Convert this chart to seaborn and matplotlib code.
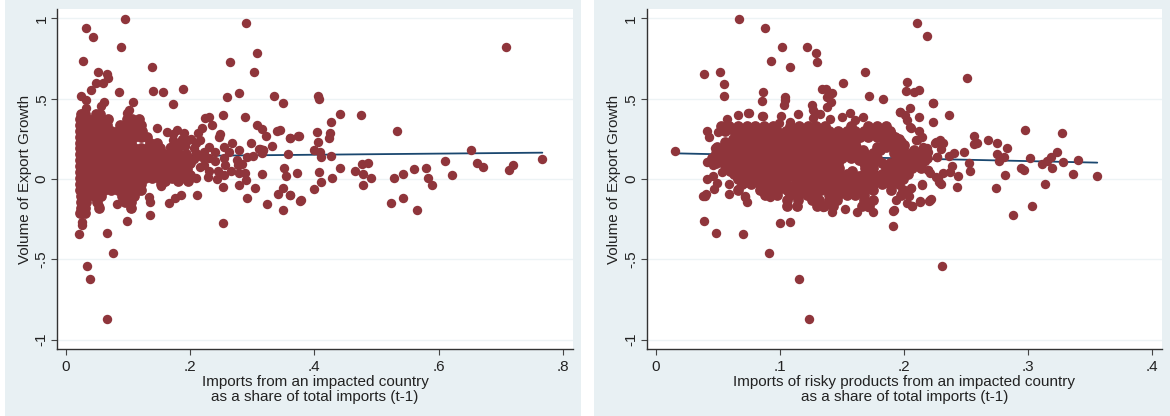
import matplotlib
matplotlib.use("Agg")
import matplotlib.pyplot as plt
from matplotlib.patches import Rectangle
import pandas as pd
import seaborn as sns

MAROON = "#8f353b"
NAVY = "#1a476f"
PANEL = "#e8f0f3"
GRID = "#edf3f5"

x_label_left = "Imports from an impacted country\nas a share of total imports (t-1)"
x_label_right = "Imports of risky products from an impacted country\nas a share of total imports (t-1)"
y_label = "Volume of Export Growth"
y_ticks = [-1, -.5, 0, .5, 1]
y_tick_labels = ["-1", "-.5", "0", ".5", "1"]
x_ticks_left = [0, .2, .4, .6, .8]
x_tick_labels_left = ["0", ".2", ".4", ".6", ".8"]
x_ticks_right = [0, .1, .2, .3, .4]
x_tick_labels_right = ["0", ".1", ".2", ".3", ".4"]

fit_left_x = [.025, .767]
fit_left_y = [.138, .164]
fit_right_x = [.0154, .3557]
fit_right_y = [.16, .102]

left_sparse = [
 (.095,.995),(.033,.939),(.044,.887),(.089,.82),(.028,.737),(.29,.97),(.308,.787),(.264,.729),(.302,.669),
 (.138,.698),(.051,.669),(.066,.654),(.068,.629),(.06,.6),(.049,.6),(.04,.555),(.086,.544),(.14,.548),
 (.156,.544),(.188,.563),(.024,.517),(.033,.492),(.108,.482),(.061,.482),(.056,.455),(.172,.469),(.259,.511),
 (.278,.534),(.335,.519),(.349,.475),(.033,.445),(.027,.41),(.102,.43),(.098,.41),(.253,.399),(.289,.384),
 (.231,.384),(.224,.378),(.235,.335),(.219,.315),(.308,.336),(.315,.311),(.322,.27),(.345,.305),(.34,.3),
 (.36,.255),(.373,.27),(.332,.207),(.298,.226),(.318,.18),(.313,.185),(.357,.158),(.351,.068),(.354,.019),
 (.372,.037),(.316,.031),(.304,-.056),(.292,-.116),(.324,-.156),(.342,-.095),(.349,-.058),(.361,-.098),
 (.349,-.19),(.376,-.14),(.406,.517),(.407,.498),(.442,.403),(.475,.401),(.426,.357),(.404,.291),(.425,.285),
 (.423,.257),(.375,.268),(.361,.254),(.406,.23),(.399,.181),(.409,.166),(.41,.139),(.427,.145),(.407,.044),
 (.411,-.019),(.429,.004),(.442,.069),(.465,.05),(.476,.093),(.487,.1),(.478,.031),(.491,.004),(.479,-.036),
 (.4,-.06),(.36,-.1),(.379,-.133),(.252,-.276),(.211,-.098),(.252,-.052),(.278,-.039),(.29,-.006),(.288,.035),
 (.279,.035),(.283,.093),(.275,.118),(.301,.143),(.291,.139),(.279,.181),(.268,.226),(.254,.201),(.263,.17),
 (.311,.185),(.317,.18),(.315,.165),(.213,.289),(.248,.279),(.246,.26),(.216,.243),(.21,.222),(.231,.197),
 (.201,.25),(.24,.17),(.254,.132),(.23,.132),(.219,.14),(.209,.165),(.206,.125),(.215,.075),(.229,.014),
 (.243,-.002),(.255,.025),(.244,.05),(.23,.05),(.256,.085),(.24,.115),(.265,.05),(.209,.004),(.2,.007),(.277,.087),
 (.708,.822),(.533,.299),(.652,.179),(.611,.114),(.662,.102),(.672,.077),(.719,.089),(.713,.054),(.767,.127),
 (.621,.027),(.58,.07),(.561,.062),(.543,.033),(.528,.006),(.583,.006),(.59,-.036),(.542,-.12),(.523,-.151),(.565,-.193),
 (.146,.316),(.162,.295),(.178,.305),(.172,.28),(.172,.243),(.167,.2),(.18,.19),(.19,.285),(.196,.24),(.151,.18),
 (.135,.225),(.153,-.042),(.166,-.148),(.176,-.12),(.185,-.1),(.025,-.266),(.026,-.287),(.021,-.343),(.066,-.334),
 (.098,-.262),(.135,-.222),(.133,-.114),(.135,-.141),(.104,-.183),(.082,-.158),(.053,-.168),(.031,-.208),
 (.076,-.461),(.034,-.54),(.038,-.625),(.066,-.87),
 (.186,.25),(.178,.22),(.192,.205),(.206,.19),(.222,.17),(.2,.1),(.222,.09),
]

left_rows = [
 (.405,[.024,.030,.048,.055]),
 (.372,[.023,.034,.045,.056,.067,.098,.106,.118]),
 (.337,[.022,.033,.044,.055,.066,.087,.098,.109,.12]),
 (.30,[.022,.028,.039,.05,.061,.072,.083,.094,.105,.116,.123]),
 (.263,[.022,.033,.044,.055,.066,.077,.088,.099,.11,.121,.13]),
 (.226,[.022,.028,.039,.05,.061,.072,.083,.094,.105,.135,.147]),
 (.19,[.022,.033,.044,.055,.066,.077,.088,.099,.11,.121,.132,.143,.152]),
 (.153,[.022,.028,.039,.05,.061,.072,.083,.094,.105,.116,.127,.138,.149,.16,.171,.182,.193]),
 (.135,[.155,.165,.18,.195]),
 (.116,[.022,.033,.044,.055,.066,.077,.088,.099,.11,.121,.132,.143,.154,.165,.176,.187,.198]),
 (.098,[.16,.172,.185,.2]),
 (.079,[.022,.028,.039,.05,.061,.072,.083,.094,.105,.116,.127,.138,.149,.156,.176,.19]),
 (.06,[.16,.17,.183,.195]),
 (.042,[.022,.033,.044,.055,.066,.077,.088,.099,.11,.121,.132,.143,.155,.172,.192]),
 (.024,[.16,.18,.2]),
 (.005,[.022,.028,.039,.05,.061,.072,.083,.094,.105,.116,.127,.138,.15,.17,.192]),
 (-.012,[.16,.18,.196]),
 (-.032,[.022,.033,.044,.055,.066,.077,.088,.099,.11,.121,.153]),
 (-.069,[.022,.028,.039,.05,.061,.072,.083,.094,.105,.116,.12]),
 (-.106,[.024,.034,.045,.056,.09,.1,.11]),
 (-.142,[.024,.032,.05,.095,.105]),
 (-.178,[.024,.03,.053,.104]),
 (-.21,[.022,.031]),
]

right_sparse = [
 (.0672,.995),(.0879,.939),(.102,.82),(.122,.824),(.129,.787),(.13,.729),(.093,.737),(.1085,.698),(.0388,.652),
 (.052,.669),(.0554,.592),(.0554,.515),(.1687,.669),(.151,.6),(.0866,.544),(.0857,.484),(.1045,.513),(.1045,.49),
 (.1037,.459),(.134,.559),(.137,.56),(.142,.534),(.138,.513),(.141,.482),(.1383,.45),(.126,.459),(.1266,.43),
 (.1716,.517),(.1834,.5),(.1324,.405),(.127,.378),(.15,.384),(.157,.413),(.167,.384),(.161,.37),(.1405,.372),
 (.101,.394),(.0868,.39),(.0755,.409),(.0667,.399),(.0573,.372),(.0417,.299),(.0433,.26),(.0505,.295),(.056,.31),
 (.0154,.176),(.0417,.108),(.0465,.087),(.048,.191),(.0412,0),(.046,.019),(.0493,-.023),(.0471,-.064),(.0399,-.104),
 (.0594,-.031),(.0594,-.095),(.0667,-.064),(.0721,-.11),(.0734,-.141),(.0533,.045),(.055,.09),
 (.039,-.26),(.049,-.334),(.0702,-.343),(.1,-.277),(.1083,-.268),(.0385,-.106),(.041,-.094),(.072,-.106),
 (.0842,-.069),(.0922,-.114),(.0976,-.063),(.1056,-.162),(.1137,-.168),(.087,-.09),
 (.0747,.409),(.0855,.393),(.115,.405),(.1284,.41),(.092,.315),(.0997,.347),(.108,.358),
 (.1969,.415),(.2049,.44),(.2022,.368),(.2049,.322),(.2124,.384),(.2237,.471),(.2237,.357),(.2124,.301),(.2142,.264),
 (.2098,.24),(.2184,.191),(.2259,.232),(.2184,.129),(.2197,.056),(.2263,.14),(.2259,.01),(.2286,-.017),(.2144,-.037),
 (.2057,-.058),(.2041,-.105),(.2022,-.15),(.2062,-.166),(.2132,-.146),(.2202,-.135),(.2222,-.127),(.1936,-.13),
 (.1923,-.193),(.1912,-.293),(.1754,-.208),(.1714,-.176),(.1523,-.184),(.162,-.203),(.1419,-.203),(.1351,-.172),(.143,-.13),
 (.2108,.97),(.2188,.889),(.2511,.63),(.2025,.604),(.2017,.548),(.2081,.542),(.2119,.552),(.2237,.472),(.1969,.418),
 (.2009,.4),(.2363,.401),(.2055,.32),(.2975,.304),(.327,.285),(.2564,.27),(.268,.243),(.2752,.224),(.2591,.226),
 (.2564,.216),(.283,.195),(.2103,.243),(.2156,.202),(.225,.227),(.2317,.224),(.2291,.243),(.2299,.185),(.2197,.17),
 (.2269,.139),(.2366,.143),(.2404,.164),(.2484,.168),(.2747,.158),(.2806,.139),(.2766,.114),(.3014,.129),(.3233,.166),
 (.3182,.139),(.315,.114),(.3115,.091),(.3281,.108),(.3404,.118),(.3557,.018),(.3193,.067),(.3361,.032),(.3134,-.03),
 (.2941,.069),(.297,.057),(.2812,.024),(.2742,-.053),(.3029,-.168),(.2524,.097),(.2532,.052),(.2385,.083),(.2433,.021),
 (.2371,.042),(.2317,.036),(.2277,.004),(.2299,-.032),(.2425,-.047),(.2143,-.032),(.221,-.13),(.213,-.14),(.2054,-.058),
 (.2063,-.168),(.2197,.054),(.221,.04),(.217,.115),
 (.2878,-.222),(.2308,-.54),(.0914,-.461),(.1155,-.625),(.1233,-.87),(.1912,-.2),
]

right_rows = [
 (.33,[.0525,.0595,.0665,.0735,.0805,.0875,.0945,.1085,.1155,.1225,.1295,.1365,.1575,.1715,.1785,.1855]),
 (.297,[.056,.063,.07,.077,.084,.091,.098,.105,.112,.119,.126,.133,.14,.147,.154,.161,.168,.175,.182,.189]),
 (.2805,[.068,.082,.096,.11,.124,.138,.152,.166,.18,.19]),
 (.264,[.0665,.0735,.0805,.0875,.0945,.1015,.1085,.1155,.1225,.1295,.1365,.1435,.1505,.1575,.1645,.1715,.1785,.1855,.1925]),
 (.2475,[.062,.076,.09,.104,.118,.132,.146,.16,.186,.196]),
 (.231,[.056,.063,.07,.077,.084,.091,.098,.105,.112,.119,.126,.133,.14,.147,.154,.161,.184,.191,.198]),
 (.2145,[.06,.074,.088,.102,.116,.13,.144,.158,.186,.2]),
 (.198,[.0495,.0565,.0635,.0705,.0775,.0845,.0915,.0985,.1055,.1125,.1195,.1265,.1335,.1405,.1475,.1545,.1615,.1785,.1855,.1925,.1995]),
 (.1815,[.055,.069,.083,.097,.111,.125,.139,.153,.167,.181,.195,.208]),
 (.165,[.049,.056,.063,.07,.077,.084,.091,.098,.105,.112,.119,.126,.133,.14,.147,.154,.161,.168,.175,.192,.199,.206,.213]),
 (.1485,[.053,.067,.081,.095,.109,.123,.137,.151,.165,.176,.198,.212]),
 (.132,[.0455,.0525,.0595,.0665,.0735,.0805,.0875,.0945,.1015,.1085,.1155,.1225,.1295,.1365,.1435,.1505,.1575,.1645,.1715,.1785,.1975,.2045,.2115,.2185]),
 (.1155,[.05,.064,.078,.092,.106,.12,.134,.148,.164,.178,.194,.208]),
 (.099,[.049,.056,.063,.07,.077,.084,.091,.098,.105,.112,.119,.126,.133,.14,.147,.168,.175,.182,.189,.196,.203,.21]),
 (.0825,[.06,.074,.088,.102,.116,.13,.144,.172,.186,.2,.212]),
 (.066,[.0565,.0635,.0705,.0775,.0845,.0915,.0985,.1055,.1125,.1195,.1265,.1335,.1405,.1475,.1685,.1755,.1855,.1925,.1995,.2065,.2135]),
 (.0495,[.06,.074,.088,.102,.116,.13,.144,.158,.172,.186,.2]),
 (.033,[.063,.07,.077,.084,.091,.098,.105,.112,.119,.126,.133,.14,.147,.154,.168,.175,.182,.189,.196,.203]),
 (.0165,[.066,.08,.094,.108,.122,.136,.15,.164,.178,.192]),
 (0,[.0665,.0735,.0805,.0875,.0945,.1015,.1155,.1225,.1295,.1365,.1435,.1505,.1575,.1645,.1715,.1785,.1855,.1925,.1995]),
 (-.0165,[.072,.086,.1,.12,.134,.148,.162,.176,.19]),
 (-.033,[.07,.077,.084,.091,.098,.105,.112,.119,.126,.133,.14,.147,.154,.161,.168,.175,.182,.189,.196]),
 (-.0495,[.09,.104,.118,.132,.146,.16,.174]),
 (-.066,[.0665,.0845,.0915,.0985,.1055,.1125,.1195,.1265,.1335,.1405,.1475,.1545,.1615,.1685,.1755,.1895,.1995]),
 (-.1,[.088,.098,.108,.115,.122,.129,.14,.147,.154,.161,.168,.198]),
 (-.133,[.1056,.115,.126,.132,.14,.146,.168,.175]),
 (-.166,[.106,.114,.13,.136,.143,.166,.172]),
]


def rows_frame(rows):
    pts = []
    for level, xs in rows:
        pts.extend((x, level) for x in xs)
    return pd.DataFrame(pts, columns=["share", "growth"])


sns.set_style("white")
plt.rcParams["font.family"] = ["Liberation Sans", "DejaVu Sans"]

W, H = 1170, 416
fig = plt.figure(figsize=(W / 100, H / 100), dpi=100, facecolor="white")
for x0, x1 in [(5, 581), (594, 1170)]:
    fig.add_artist(Rectangle((x0 / W, 0), (x1 - x0) / W, 1, transform=fig.transFigure,
                             facecolor=PANEL, edgecolor="none", zorder=-5))


def panel(px0, px1, xlim, sparse, rows, fx, fy, xt, xtl, xlab):
    ax = fig.add_axes([px0 / W, (H - 349) / H, (px1 - px0) / W, 340 / H], facecolor="white")
    ax.set_xlim(*xlim)
    ax.set_ylim(-1.059, 1.059)
    sns.lineplot(x=fx, y=fy, ax=ax, color=NAVY, lw=1.3, zorder=2, errorbar=None)
    sns.scatterplot(data=rows_frame(rows), x="share", y="growth", ax=ax, color=MAROON,
                    s=60, linewidth=0, alpha=1, zorder=3)
    sns.scatterplot(data=pd.DataFrame(sparse, columns=["share", "growth"]), x="share", y="growth",
                    ax=ax, color=MAROON, s=46, linewidth=0, alpha=1, zorder=3)
    ax.set_yticks(y_ticks)
    ax.set_yticklabels(y_tick_labels, rotation=90, va="center", fontsize=11, color="#222222")
    ax.set_xticks(xt)
    ax.set_xticklabels(xtl, fontsize=11, color="#222222")
    ax.tick_params(axis="both", length=4.2, width=0.8, color="#444444", left=True, bottom=True)
    ax.tick_params(axis="x", pad=4)
    ax.tick_params(axis="y", pad=2)
    ax.grid(axis="y", color=GRID, lw=1)
    ax.grid(axis="x", visible=False)
    ax.set_axisbelow(True)
    for s in ["top", "right"]:
        ax.spines[s].set_visible(False)
    for s in ["left", "bottom"]:
        ax.spines[s].set_color("#333333")
        ax.spines[s].set_linewidth(1.0)
    ax.set_xlabel(xlab, fontsize=11, color="#222222", labelpad=0.3, linespacing=1.12)
    ax.set_ylabel(y_label, fontsize=11, color="#222222", labelpad=2)
    return ax


panel(57, 573, (-.0145, .8164), left_sparse, left_rows, fit_left_x, fit_left_y,
      x_ticks_left, x_tick_labels_left, x_label_left)
panel(646.7, 1161.7, (-.0071, .4076), right_sparse, right_rows, fit_right_x, fit_right_y,
      x_ticks_right, x_tick_labels_right, x_label_right)

fig.savefig("out.png", dpi=100)
